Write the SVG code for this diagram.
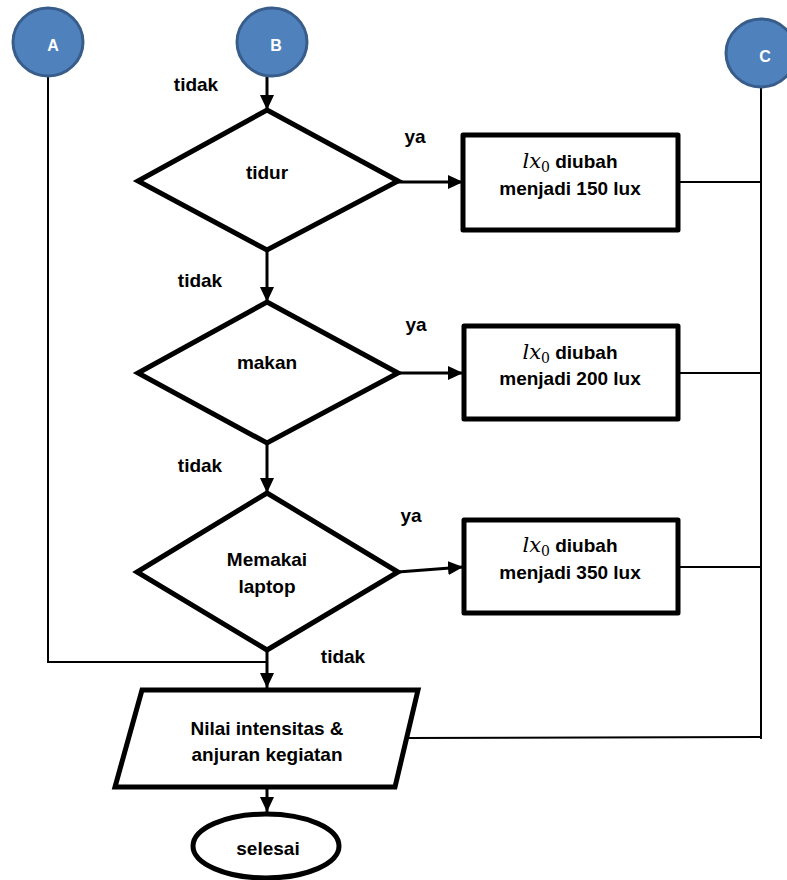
<svg xmlns="http://www.w3.org/2000/svg" width="787" height="880" viewBox="0 0 787 880">
<style>
.shape{fill:#fff;stroke:#000;stroke-width:5;stroke-linejoin:miter}
.rbox{fill:#fff;stroke:#000;stroke-width:5;stroke-linejoin:round}
.conn{fill:none;stroke:#000;stroke-width:3}
.thin{fill:none;stroke:#000;stroke-width:2}
.circ{fill:#4f81bd;stroke:#385d8a;stroke-width:3}
.lbl{font-family:"Liberation Sans",Arial,sans-serif;font-weight:bold;font-size:19px;fill:#000;text-anchor:middle}
.ctx{font-family:"Liberation Sans",Arial,sans-serif;font-weight:bold;font-size:16px;fill:#fff;text-anchor:middle}
.math{font-family:"DejaVu Serif","Liberation Serif",serif;font-style:italic;font-weight:normal;font-size:21px}
.sub{font-family:"DejaVu Serif","Liberation Serif",serif;font-style:normal;font-weight:normal;font-size:14px}
</style>
<defs>
<marker id="arr" viewBox="0 0 15 14" refX="15" refY="7" markerWidth="15" markerHeight="14" markerUnits="userSpaceOnUse" orient="auto">
<path d="M0,0 L15,7 L0,14 z" fill="#000"/>
</marker>
</defs>
<rect width="787" height="880" fill="#fff"/>

<g id="connectors">
<line class="conn" x1="267" y1="77" x2="267" y2="110" marker-end="url(#arr)"/>
<line class="conn" x1="267" y1="250" x2="267" y2="302" marker-end="url(#arr)"/>
<line class="conn" x1="267" y1="443" x2="267" y2="493" marker-end="url(#arr)"/>
<line class="conn" x1="267" y1="650" x2="267" y2="688" marker-end="url(#arr)"/>
<line class="conn" x1="267" y1="787" x2="267" y2="812" marker-end="url(#arr)"/>
<line class="conn" x1="398" y1="182" x2="463" y2="182" marker-end="url(#arr)"/>
<line class="conn" x1="398" y1="373" x2="463" y2="373" marker-end="url(#arr)"/>
<line class="conn" x1="398" y1="572" x2="463" y2="567" marker-end="url(#arr)"/>
<polyline class="thin" points="48,77 48,662 266,662"/>
<polyline class="thin" points="761,87 761,739"/>
<line class="thin" x1="761" y1="737" x2="406" y2="738"/>
<line class="thin" x1="678" y1="182" x2="761" y2="182"/>
<line class="thin" x1="678" y1="373" x2="761" y2="373"/>
<line class="thin" x1="678" y1="567" x2="761" y2="567"/>
</g>

<g id="A">
<ellipse class="circ" cx="48" cy="42" rx="35" ry="34"/>
<text class="ctx" x="53" y="51">A</text>
</g>
<g id="B">
<ellipse class="circ" cx="272" cy="42" rx="35" ry="34"/>
<text class="ctx" x="276" y="51">B</text>
</g>
<g id="C">
<ellipse class="circ" cx="761" cy="53" rx="35" ry="34"/>
<text class="ctx" x="765" y="62">C</text>
</g>

<g id="d_tidur">
<polygon class="shape" points="267,110 398,181 267,250 138,181"/>
<text class="lbl" x="267" y="179">tidur</text>
</g>
<g id="d_makan">
<polygon class="shape" points="267,302 398,373 267,443 138,373"/>
<text class="lbl" x="267" y="369">makan</text>
</g>
<g id="d_laptop">
<polygon class="shape" points="267,493 398,572 267,650 137,572"/>
<text class="lbl" x="267" y="566">Memakai</text>
<text class="lbl" x="267" y="593">laptop</text>
</g>

<g id="p150">
<rect class="rbox" x="463" y="135" width="215" height="95"/>
<text class="lbl" x="570" y="168"><tspan class="math">lx</tspan><tspan class="sub" dy="4">0</tspan><tspan dy="-4"> diubah</tspan></text>
<text class="lbl" x="570" y="195">menjadi 150 lux</text>
</g>
<g id="p200">
<rect class="rbox" x="464" y="326" width="214" height="93"/>
<text class="lbl" x="570" y="359"><tspan class="math">lx</tspan><tspan class="sub" dy="4">0</tspan><tspan dy="-4"> diubah</tspan></text>
<text class="lbl" x="570" y="385">menjadi 200 lux</text>
</g>
<g id="p350">
<rect class="rbox" x="464" y="520" width="214" height="93"/>
<text class="lbl" x="570" y="552"><tspan class="math">lx</tspan><tspan class="sub" dy="4">0</tspan><tspan dy="-4"> diubah</tspan></text>
<text class="lbl" x="570" y="579">menjadi 350 lux</text>
</g>

<g id="output">
<polygon class="shape" points="142,690 418,690 395,787 115,787"/>
<text class="lbl" x="267" y="735">Nilai intensitas &amp;</text>
<text class="lbl" x="267" y="761">anjuran kegiatan</text>
</g>
<g id="end">
<ellipse class="shape" cx="266" cy="846" rx="73" ry="32"/>
<text class="lbl" x="268" y="855">selesai</text>
</g>

<g id="labels">
<text class="lbl" x="196" y="91">tidak</text>
<text class="lbl" x="415" y="143">ya</text>
<text class="lbl" x="200" y="287">tidak</text>
<text class="lbl" x="416" y="331">ya</text>
<text class="lbl" x="200" y="472">tidak</text>
<text class="lbl" x="411" y="522">ya</text>
<text class="lbl" x="343" y="663">tidak</text>
</g>
</svg>
